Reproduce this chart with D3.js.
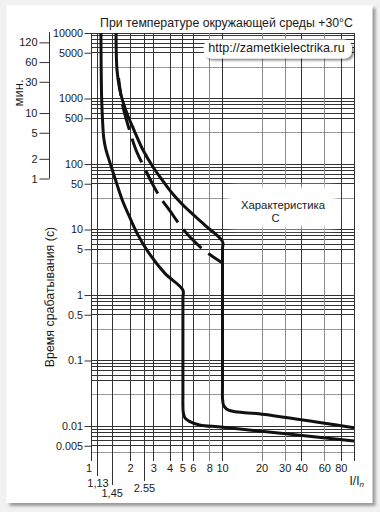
<!DOCTYPE html>
<html><head><meta charset="utf-8">
<script src="https://cdn.jsdelivr.net/npm/d3@7"></script>
<style>
body{margin:0;background:#f1f1f1}
svg{display:block}
text{font-family:"Liberation Sans",Arial,sans-serif;fill:#1a1a1a}
</style>
</head><body>
<svg id="c" width="380" height="512"></svg>
<script>
// ---- data ----
const xTicks = [1, 1.13, 1.45, 2, 2.55, 3, 4, 5, 6, 8, 10, 20, 30, 40, 60, 80, 100];
const xTickLabels = ["1", "1,13", "1,45", "2", "2.55", "3", "4", "5", "6", "8", "10", "20", "30", "40", "60", "80", ""];
const xGrayTicks = [8, 20, 30, 60];
const yTicks = [10000, 5000, 1000, 500, 100, 50, 10, 5, 1, 0.5, 0.1, 0.01, 0.005];
const yTickLabels = ["10000", "5000", "1000", "500", "100", "50", "10", "5", "1", "0.5", "0.1", "0.01", "0.005"];
const minTicks = [120, 60, 30, 10, 5, 2, 1];
const minTickLabels = ["120", "60", "30", "10", "5", "2", "1"];
const gridDecades = [1000, 100, 10, 1, 0.1, 0.01, 0.001];
const gridDark = [10, 9, 8, 7, 6, 5];
const gridGray = [3];
// [I/In, seconds]
const lowerCurve = [[1.19,10000],[1.195,3000],[1.205,1000],[1.225,450],[1.25,250],[1.30,164],[1.40,102],[1.58,48],[1.75,26.5],[1.98,15],[2.28,8.2],[2.71,4.6],[3.65,2.14],[5,1.19],[5,0.9],[5,0.03],[5,0.0202],[5.04,0.0158],[5.2,0.0132],[5.6,0.0118],[6.7,0.0104],[10.1,0.0096],[100,0.0059]];
const upperCurve = [[1.55,10000],[1.577,2723],[1.647,1447],[1.751,884],[1.911,540],[2.123,330],[2.486,163.6],[2.961,90],[3.528,55],[4.13,36.1],[4.835,25.4],[5.66,18.7],[7.49,11.3],[10,6.56],[10,5],[10,0.04],[10,0.0268],[10.18,0.0209],[10.73,0.0182],[11.71,0.01695],[14.19,0.01607],[18.1,0.0155],[100,0.00942]];
const dashedCurve = [[1.619,2056],[1.691,1092],[1.751,742],[1.970,319],[2.199,163.6],[2.486,96.5],[2.91,51.3],[3.347,31.3],[3.99,19.2],[4.75,11.7],[5.66,7.68],[7.36,4.70],[10,3.08]];
const titleText = "При температуре окружающей среды +30°C";
const urlText = "http://zametkielectrika.ru";
const yTitle = "Время срабатывания (с)";
const minTitle = "мин.";
const charLines = ["Характеристика", "C"];

// ---- layout ----
const L = 91, R = 354, T = 33, B = 452.1;
const svg = d3.select("#c");
const defs = svg.append("defs");
defs.append("filter").attr("id","sh").attr("x","-10%").attr("y","-10%").attr("width","130%").attr("height","130%")
  .append("feGaussianBlur").attr("stdDeviation", 1.6);
defs.append("filter").attr("id","soft").attr("x","-30%").attr("y","-30%").attr("width","160%").attr("height","160%")
  .append("feGaussianBlur").attr("stdDeviation", 3);
const ush = defs.append("filter").attr("id","ush").attr("x","-10%").attr("y","-30%").attr("width","130%").attr("height","170%");
ush.append("feGaussianBlur").attr("in","SourceAlpha").attr("stdDeviation",1.2).attr("result","b");
ush.append("feOffset").attr("in","b").attr("dx",1.5).attr("dy",1.5).attr("result","o");
ush.append("feFlood").attr("flood-color","#000").attr("flood-opacity",0.45);
ush.append("feComposite").attr("in2","o").attr("operator","in").attr("result","s");
const m = ush.append("feMerge"); m.append("feMergeNode").attr("in","s"); m.append("feMergeNode").attr("in","SourceGraphic");

// card
svg.append("rect").attr("x",9.5).attr("y",8).attr("width",366).attr("height",498).attr("fill","#9a9a9a").attr("filter","url(#sh)");
svg.append("rect").attr("x",6.5).attr("y",5).attr("width",366).attr("height",498).attr("fill","#fff");

const x = d3.scaleLog().domain([1, 100]).range([L, R]);
const y = d3.scaleLog().domain([10000, 0.004]).range([T, B]);
const yMin = d3.scaleLog().domain([10000/60, 0.004/60]).range([T, B]);

const g = svg.append("g");
// horizontal grid
const hDark = [], hGray = [];
gridDecades.forEach(d => {
  gridDark.forEach(k => { const v = d*k; if (v <= 10000 && v >= 0.004) hDark.push(v); });
  gridGray.forEach(k => { const v = d*k; if (v <= 10000 && v >= 0.004) hGray.push(v); });
});
g.selectAll(".hg").data(hGray).join("line")
  .attr("x1", L).attr("x2", R).attr("y1", d => y(d)).attr("y2", d => y(d))
  .attr("stroke", "#9a9a9a").attr("stroke-width", 1).attr("shape-rendering","crispEdges");
g.append("line").attr("x1", L).attr("x2", R).attr("y1", y(0.004)).attr("y2", y(0.004))
  .attr("stroke", "#9a9a9a").attr("shape-rendering","crispEdges");
g.selectAll(".hd").data(hDark).join("line")
  .attr("x1", L).attr("x2", R).attr("y1", d => y(d)).attr("y2", d => y(d))
  .attr("stroke", "#333").attr("stroke-width", 1).attr("shape-rendering","crispEdges");

// vertical grid + x ticks
const ext = {"1,13": [476, 486.5], "1,45": [485, 496.5], "2.55": [481, 491.5]};
xTicks.forEach((v, i) => {
  const lab = xTickLabels[i];
  const e = ext[lab] || [461, 472];
  g.append("line").attr("x1", x(v)).attr("x2", x(v)).attr("y1", T).attr("y2", v === 100 ? B + 9 : e[0])
    .attr("stroke", xGrayTicks.includes(v) ? "#8a8a8a" : "#333").attr("shape-rendering","crispEdges");
  if (lab) g.append("text").attr("x", x(v) + (v === 1 ? -2 : 0)).attr("y", e[1]).attr("text-anchor","middle")
    .attr("font-size", 11).text(lab);
});

// y axis (seconds)
const ay = svg.append("g").attr("transform", `translate(${L},0)`)
  .call(d3.axisLeft(y).tickValues(yTicks).tickFormat((d, i) => yTickLabels[i]).tickSize(6.5).tickPadding(1.5));
ay.select(".domain").remove();
ay.selectAll("line").attr("stroke","#333");
ay.selectAll("text").attr("font-size", 10.8).attr("font-family", '"Liberation Sans",Arial,sans-serif').attr("fill","#1a1a1a");

// minutes axis
const am = svg.append("g").attr("transform", "translate(49.5,0)")
  .call(d3.axisLeft(yMin).tickValues(minTicks).tickFormat((d, i) => minTickLabels[i]).tickSize(10).tickPadding(2));
am.select(".domain").remove();
am.selectAll("line").attr("stroke","#333");
am.selectAll("text").attr("font-size", 11).attr("font-family", '"Liberation Sans",Arial,sans-serif').attr("fill","#1a1a1a");
svg.append("line").attr("x1",49.5).attr("x2",49.5).attr("y1",T-1).attr("y2",yMin(1)).attr("stroke","#333");

// titles
svg.append("text").attr("x", 226.5).attr("y", 26.5).attr("text-anchor","middle").attr("font-size", 12.3).text(titleText);
svg.append("text").attr("transform","translate(53.5,297) rotate(-90)").attr("text-anchor","middle").attr("font-size",12.4).text(yTitle);
svg.append("text").attr("transform","translate(22.5,93) rotate(-90)").attr("text-anchor","middle").attr("font-size",13).text(minTitle);
const xl = svg.append("text").attr("x", 349.5).attr("y", 485).attr("font-size", 12);
xl.append("tspan").text("I/I");
xl.append("tspan").attr("font-size", 8).attr("font-style","italic").attr("dy", 1.5).text("n");

// curves
const line = d3.line().x(d => x(d[0])).y(d => y(d[1])).curve(d3.curveCatmullRom.alpha(0.5));
svg.append("path").attr("d", line(lowerCurve)).attr("fill","none").attr("stroke","#111").attr("stroke-width",3);
svg.append("path").attr("d", line(upperCurve)).attr("fill","none").attr("stroke","#111").attr("stroke-width",3);
svg.append("path").attr("d", line(dashedCurve)).attr("fill","none").attr("stroke","#111").attr("stroke-width",3)
  .attr("stroke-dasharray","26 9").attr("stroke-dashoffset",8);

// characteristic label
svg.append("rect").attr("x",228).attr("y",186).attr("width",108).attr("height",42).attr("rx",8).attr("fill","#fff").attr("filter","url(#soft)");
svg.append("rect").attr("x",232).attr("y",189).attr("width",100).attr("height",36).attr("rx",6).attr("fill","#fff");
svg.append("text").attr("x",283).attr("y",208.5).attr("text-anchor","middle").attr("font-size",11.3).text(charLines[0]);
svg.append("text").attr("x",275.5).attr("y",221.8).attr("text-anchor","middle").attr("font-size",11.3).text(charLines[1]);

// url box
svg.append("rect").attr("x",203.5).attr("y",39.5).attr("width",148.5).attr("height",19).attr("rx",8)
  .attr("fill","#fff").attr("filter","url(#ush)");
svg.append("text").attr("x",208.3).attr("y",52.3).attr("font-size",12.6).attr("fill","#222").text(urlText);
</script>
</body></html>
